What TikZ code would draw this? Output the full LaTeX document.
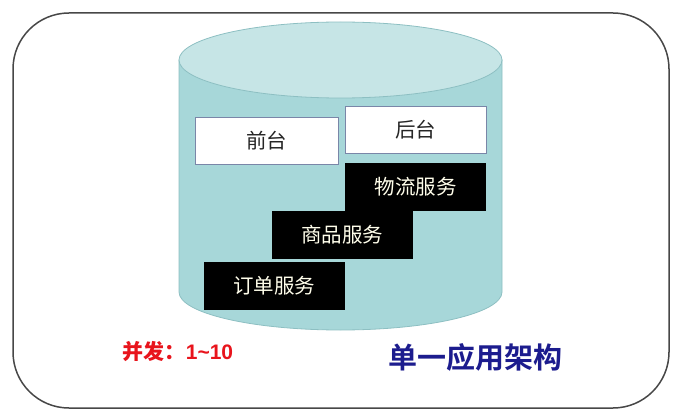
\documentclass[tikz,border=0pt]{standalone}
\usepackage{fontspec}
\newfontfamily\cjk{Noto Sans CJK SC}
\newfontfamily\cjkbold{Noto Sans CJK SC Bold}
\setmainfont{Liberation Sans}
\definecolor{cylbody}{HTML}{A7D7D9}
\definecolor{cyltop}{HTML}{C6E5E6}
\definecolor{cylline}{HTML}{8DBFC2}
\definecolor{boxline}{HTML}{7A86A8}
\definecolor{titleblue}{HTML}{1C1C8E}
\definecolor{redtext}{HTML}{E8141C}
\tikzset{
  whitebox/.style={draw=boxline, line width=0.9pt, fill=white, minimum width=141pt, minimum height=47pt, inner sep=0pt, font=\cjk\fontsize{20.5}{20.5}\selectfont, text=black!85},
  blackbox/.style={fill=black, minimum width=141pt, minimum height=48pt, inner sep=0pt, font=\cjk\fontsize{20.5}{20.5}\selectfont, text=white!92!yellow},
}
\begin{document}
\begin{tikzpicture}[x=1pt,y=-1pt]
\useasboundingbox (0,0) rectangle (687,414);
% outer frame
\draw[line width=1.5pt, draw=black!72, rounded corners=56pt] (13,13) rectangle (669,408);
% cylinder body
\path[fill=cylbody, draw=cylline, line width=0.8pt] (179,60) -- (179,292) arc[start angle=180, end angle=0, x radius=161.5, y radius=38] -- (502,60) -- cycle;
% top ellipse
\path[fill=cyltop, draw=cylline, line width=0.8pt] (340.5,60) ellipse[x radius=161.5, y radius=38];
% boxes
\node[whitebox, minimum width=143pt] (front) at (266.5,140.5) {前台};
\node[whitebox] (back) at (415.5,129.5) {后台};
\node[blackbox] (logistics) at (415.5,187) {物流服务};
\node[blackbox, minimum width=141pt] (goods) at (342,235) {商品服务};
\node[blackbox] (order) at (274,286) {订单服务};
% labels
\node[text=redtext, font=\bfseries\fontsize{21}{21}\selectfont, inner sep=0pt] (conc) at (178,352) {{\cjkbold 并发：}1\textasciitilde 10};
\node[text=titleblue, font=\cjkbold\fontsize{29}{29}\selectfont, inner sep=0pt] (title) at (475,357) {单一应用架构};
\end{tikzpicture}
\end{document}
